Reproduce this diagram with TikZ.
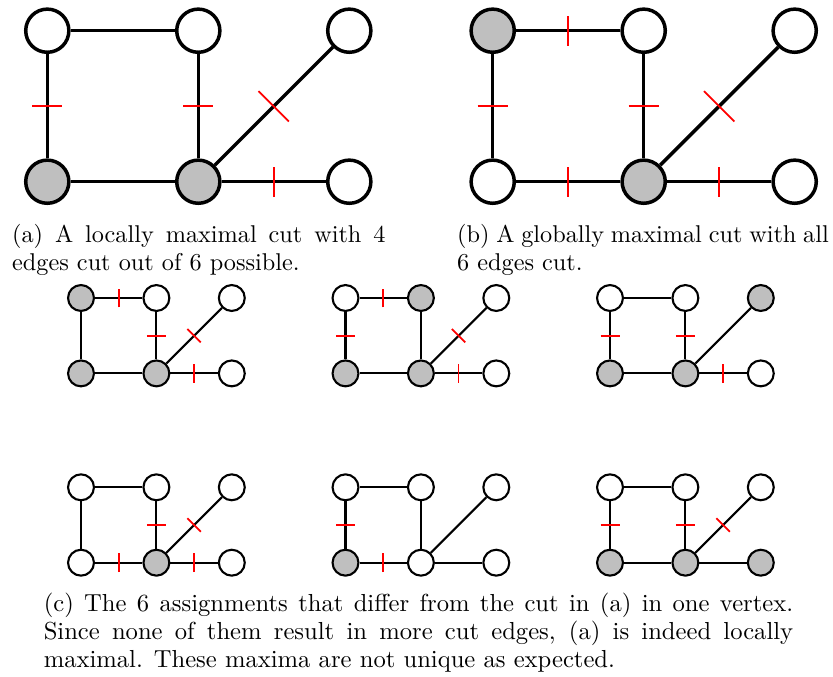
\documentclass[tikz,border=0pt]{standalone}
\usepackage{tikz}
\usetikzlibrary{decorations.markings}

\def\vgap{151}
\def\ticklen{6.43pt}
\newcommand{\placevertices}[7]{%
	\node[#2] (#1tl) at (0, 0) {};
	\node[#3] (#1tm) at (\vgap, 0) {};
	\node[#4] (#1tr) at (2*\vgap, 0) {};
	\node[#5] (#1bl) at (0, \vgap) {};
	\node[#6] (#1bm) at (\vgap, \vgap) {};
	\node[#7] (#1br) at (2*\vgap, \vgap) {};
}
\newcommand{\placelinks}[7]{%
	\draw[#2] (#1tl) -- (#1tm);
	\draw[#3] (#1tl) -- (#1bl);
	\draw[#4] (#1tm) -- (#1bm);
	\draw[#5] (#1bm) -- (#1tr);
	\draw[#6] (#1bl) -- (#1bm);
	\draw[#7] (#1bm) -- (#1br);
}
\tikzset{
	vtx/.style={circle, draw=black, inner sep=0pt, minimum size=18.5pt, line width=1.5pt},
	wv/.style={vtx, fill=white},
	gv/.style={vtx, fill=black!25},
	link/.style={line width=1.5pt},
	tickmark/.style={draw=red, line width=0.75pt},
	cutlink/.style={link, postaction={decorate, decoration={markings, mark=at position 0.5 with {\draw[tickmark] (0pt, -#1) -- (0pt, #1);}}}},
	cutlink/.default=\ticklen,
	caption/.style={inner sep=0pt, anchor=base west, align=justify, font=\fontsize{10.4}{12.1}\selectfont},
}

\begin{document}
\begin{tikzpicture}[x=0.42857pt, y=-0.42857pt]
	%%%%% START %%%%%
	\useasboundingbox (0, 0) rectangle (833, 677);
	
	% (a) locally maximal
	\begin{scope}[shift={(47.3, 30.7)}]
		\placevertices{a}{wv}{wv}{wv}{gv}{gv}{wv}
		\placelinks{a}{link}{cutlink}{cutlink}{cutlink=9.2pt}{link}{cutlink}
	\end{scope}
	\node[caption, text width=160pt] (capa) at (11.7, 242.7) {(a) A locally maximal cut with 4\linebreak edges cut out of 6 possible.};
	
	% (b) globally maximal
	\begin{scope}[shift={(492.7, 30.7)}]
		\placevertices{b}{gv}{wv}{wv}{wv}{gv}{wv}
		\placelinks{b}{cutlink}{cutlink}{cutlink}{cutlink=9.2pt}{cutlink}{cutlink}
	\end{scope}
	\node[caption, text width=159.3pt] (capb) at (456.7, 242.7) {(b) A globally maximal cut with all\linebreak 6 edges cut.};
	
	% (c) one vertex flipped
	\begin{scope}[vtx/.append style={minimum size=11.1pt, line width=0.9pt}, link/.append style={line width=0.9pt}]
		\def\vgap{75.4}
		\def\ticklen{4.07pt}
		\begin{scope}[shift={(81, 298)}]
			\placevertices{c1}{gv}{wv}{wv}{gv}{gv}{wv}
			\placelinks{c1}{cutlink}{link}{cutlink}{cutlink}{link}{cutlink}
		\end{scope}
		\begin{scope}[shift={(345.5, 298)}]
			\placevertices{c2}{wv}{gv}{wv}{gv}{gv}{wv}
			\placelinks{c2}{cutlink}{cutlink}{link}{cutlink}{link}{cutlink}
		\end{scope}
		\begin{scope}[shift={(610, 298)}]
			\placevertices{c3}{wv}{wv}{gv}{gv}{gv}{wv}
			\placelinks{c3}{link}{cutlink}{cutlink}{link}{link}{cutlink}
		\end{scope}
		
		\begin{scope}[shift={(81, 487.3)}]
			\placevertices{c4}{wv}{wv}{wv}{wv}{gv}{wv}
			\placelinks{c4}{link}{link}{cutlink}{cutlink}{cutlink}{cutlink}
		\end{scope}
		\begin{scope}[shift={(345.5, 487.3)}]
			\placevertices{c5}{wv}{wv}{wv}{gv}{wv}{wv}
			\placelinks{c5}{link}{cutlink}{link}{link}{cutlink}{link}
		\end{scope}
		\begin{scope}[shift={(610, 487.3)}]
			\placevertices{c6}{wv}{wv}{wv}{gv}{gv}{gv}
			\placelinks{c6}{link}{cutlink}{cutlink}{cutlink}{link}{link}
		\end{scope}
	\end{scope}
	\node[caption, text width=321.2pt, font=\fontsize{10.55}{12.1}\selectfont] (capc) at (43.3, 611) {(c) The 6 assignments that differ from the cut in (a) in one vertex.\linebreak Since none of them result in more cut edges, (a) is indeed locally\linebreak maximal. These maxima are not unique as expected.};
	
	%%%%% END %%%%%
\end{tikzpicture}
\end{document}
